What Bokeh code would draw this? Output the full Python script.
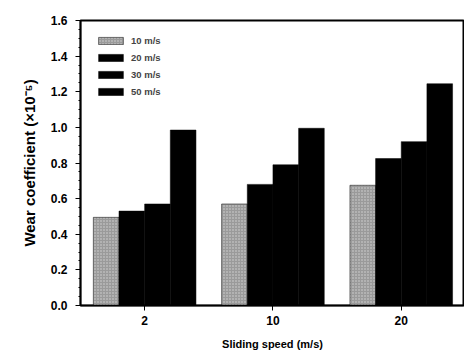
from bokeh.plotting import figure
from bokeh.models import ColumnDataSource, FixedTicker, Range1d, Legend, LegendItem
from bokeh.embed import file_html
from bokeh.resources import INLINE

speeds = ["2", "10", "20"]
series_names = ["10 m/s", "20 m/s", "30 m/s", "50 m/s"]
v10 = [0.495, 0.57, 0.675]
v20 = [0.53, 0.68, 0.825]
v30 = [0.57, 0.79, 0.92]
v50 = [0.985, 0.995, 1.245]
yticks = [0.0, 0.2, 0.4, 0.6, 0.8, 1.0, 1.2, 1.4, 1.6]

series = [v10, v20, v30, v50]
colors = ["#9a9a9a", "#000000", "#000000", "#000000"]
offsets = [-0.3, -0.1, 0.1, 0.3]

p = figure(width=464, height=356, output_backend="svg", toolbar_location=None,
           x_range=Range1d(-0.5, 2.493), y_range=Range1d(0, 1.6),
           min_border_left=80, min_border_top=20, min_border_bottom=51, min_border_right=0)

xs = list(range(len(speeds)))
items = []
for name, vals, col, off in zip(series_names, series, colors, offsets):
    src = ColumnDataSource(dict(x=[x + off for x in xs], top=vals))
    r = p.vbar(x="x", top="top", width=0.2, bottom=0, source=src,
               fill_color=col, line_color="#000000", line_width=0.5,
               hatch_pattern="dot" if col != "#000000" else None,
               hatch_color="#ffffff", hatch_scale=3, hatch_alpha=0.6)
    items.append(LegendItem(label=name, renderers=[r]))

legend = Legend(items=items, location="top_left", border_line_color=None,
                background_fill_alpha=0, label_text_font="Liberation Sans",
                label_text_font_style="bold", label_text_font_size="9.5px",
                glyph_width=31, glyph_height=9, spacing=6, label_height=11,
                padding=0, margin=15, label_standoff=5)
p.add_layout(legend)

p.xgrid.visible = False
p.ygrid.visible = False
p.outline_line_color = "#000000"
p.outline_line_width = 2

p.xaxis.ticker = FixedTicker(ticks=xs)
p.xaxis.major_label_overrides = {i: s for i, s in enumerate(speeds)}
p.xaxis.minor_tick_line_color = None
p.xaxis.axis_label = "Sliding speed (m/s)"
p.yaxis.ticker = FixedTicker(ticks=yticks, minor_ticks=[i * 0.05 for i in range(33)])
p.yaxis.major_label_overrides = {t: f"{t:.1f}" for t in yticks}
p.yaxis.axis_label = "Wear coefficient (×10⁻⁵)"

for ax in (p.xaxis[0], p.yaxis[0]):
    ax.axis_line_color = "#000000"
    ax.axis_line_width = 1.5
    ax.major_tick_line_color = "#000000"
    ax.major_tick_out = 5
    ax.major_tick_in = 0
    ax.minor_tick_out = 2
    ax.minor_tick_in = 0
    ax.major_label_text_font = "Liberation Sans"
    ax.major_label_text_font_style = "bold"
    ax.major_label_text_font_size = "12px"
    ax.major_label_text_color = "#000000"
    ax.axis_label_text_font = "Liberation Sans"
    ax.axis_label_text_font_style = "bold"
    ax.axis_label_text_color = "#000000"
p.xaxis.axis_label_text_font_size = "11px"
p.yaxis.axis_label_text_font_size = "15px"
p.xaxis.axis_label_standoff = 10
p.yaxis.major_label_standoff = 8
p.yaxis.axis_label_standoff = 10

open("out.html", "w").write(file_html(p, INLINE))
